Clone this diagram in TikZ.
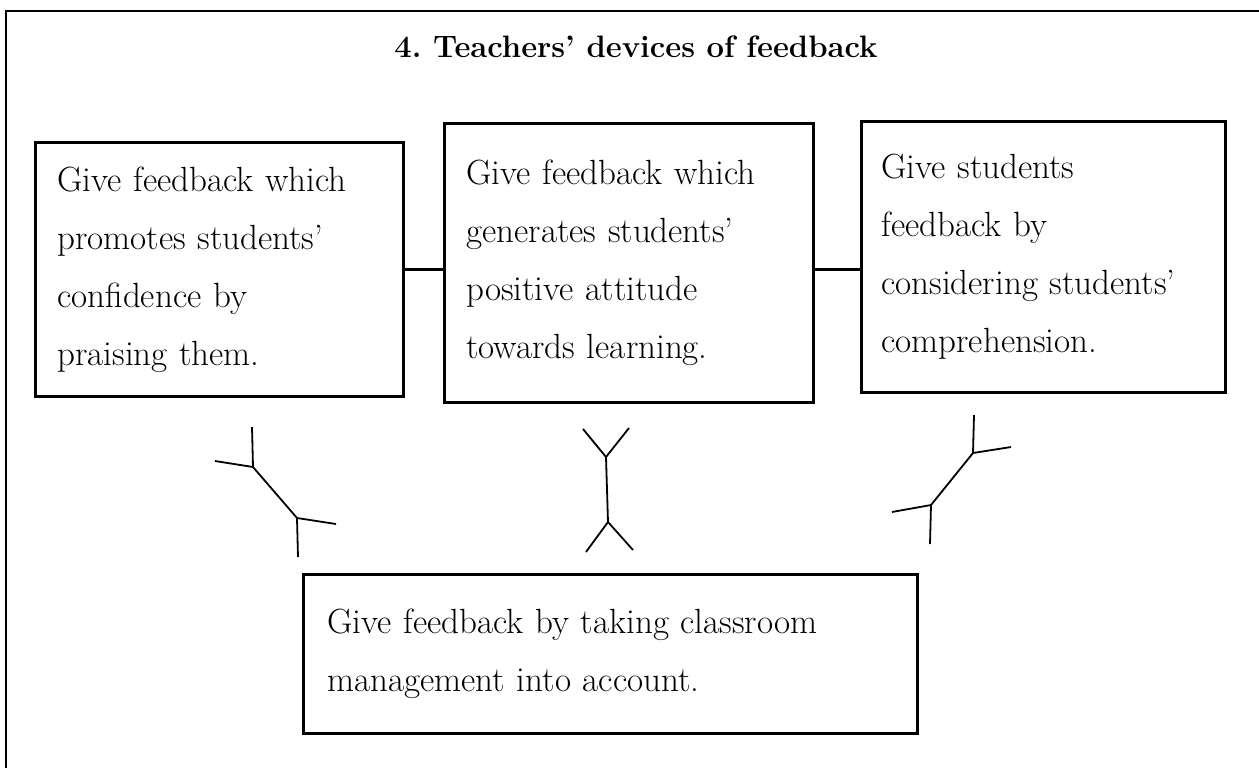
\documentclass[tikz,border=0pt]{standalone}
\usepackage{fontspec}
\frenchspacing
\begin{document}
\begin{tikzpicture}[x=0.5pt,y=-0.5pt,
  devbox/.style={draw,line width=1.4pt,anchor=north west,align=left,
    inner xsep=11pt,inner ysep=0pt,font=\fontsize{17.5}{29}\selectfont},
  fork/.style={line width=0.9pt,line join=round}]
  \useasboundingbox (0,0) rectangle (1259,767);
  % outer frame
  \draw[line width=1.4pt] (6,790) -- (6,11) -- (1280,11);
  \node (title) at (636,47) {\fontsize{15.5}{18}\selectfont\bfseries 4. Teachers' devices of feedback};
  \node (b1) [devbox,text width=162pt,minimum height=127pt] at (34,141)
    {Give feedback which\\promotes students'\\confidence by\\praising them.};
  \node (b2) [devbox,text width=162.5pt,minimum height=139.5pt] at (443,122)
    {Give feedback which\\generates students'\\positive attitude\\towards learning.};
  \node (b3) [devbox,inner xsep=10pt,text width=162pt,minimum height=135.5pt] at (860,120)
    {Give students\\feedback by\\considering students'\\comprehension.};
  \node (b4) [devbox,inner xsep=12pt,text width=283pt,minimum height=79.5pt] at (302,573)
    {Give feedback by taking classroom\\management into account.};
  \draw[line width=1.2pt] (b1.east) -- (b2.west |- b1.east);
  \draw[line width=1.2pt] (b2.east |- b1.east) -- (b3.west |- b1.east);
  % left fork
  \coordinate (l1) at (252,427);
  \coordinate (l2) at (253,467);
  \coordinate (l3) at (215,461);
  \coordinate (l4) at (297,518);
  \coordinate (l5) at (336,524);
  \coordinate (l6) at (298,557);
  \draw[fork] (l1) -- (l2) -- (l4) -- (l6);
  \draw[fork] (l3) -- (l2);
  \draw[fork] (l4) -- (l5);
  % middle fork
  \coordinate (m1) at (583,429);
  \coordinate (m2) at (629,428);
  \coordinate (m3) at (606,457);
  \coordinate (m4) at (608,522);
  \coordinate (m5) at (586,552);
  \coordinate (m6) at (633,550);
  \draw[fork] (m1) -- (m3) -- (m2);
  \draw[fork] (m3) -- (m4);
  \draw[fork] (m5) -- (m4) -- (m6);
  % right fork
  \coordinate (r1) at (974,415);
  \coordinate (r2) at (973,453);
  \coordinate (r3) at (1011,447);
  \coordinate (r4) at (931,505);
  \coordinate (r5) at (892,512);
  \coordinate (r6) at (930,544);
  \draw[fork] (r1) -- (r2) -- (r4) -- (r6);
  \draw[fork] (r2) -- (r3);
  \draw[fork] (r5) -- (r4);
\end{tikzpicture}
\end{document}
